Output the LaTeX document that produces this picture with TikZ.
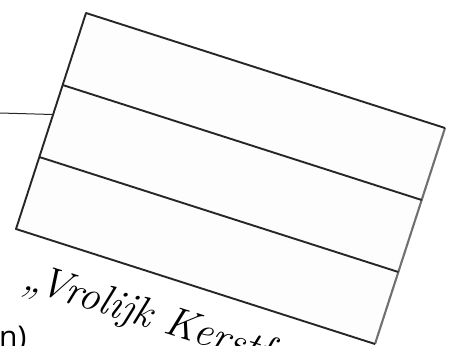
\documentclass[tikz,border=0pt]{standalone}
\usepackage{fontspec}
\newfontfamily\sansfont{Open Sans}
\usetikzlibrary{calc}
\definecolor{boxfill}{HTML}{FDFDFD}
\definecolor{edgegray}{HTML}{707070}
\tikzset{
  boxline/.style={draw=black!85, line width=1.9pt, line join=round},
  lightedge/.style={draw=edgegray, line width=2.1pt},
  leader/.style={draw=black!85, line width=1pt},
  greeting/.style={font=\fontsize{42}{46}\selectfont\itshape, inner sep=0pt, anchor=base west, rotate=-17.5},
  sidetext/.style={font=\sansfont\fontsize{30}{34}\selectfont, inner sep=0pt, anchor=base west}
}
\begin{document}
\begin{tikzpicture}[x=1pt,y=-1pt]
\useasboundingbox (0,0) rectangle (454,345);
\clip (0,0) rectangle (454,345);
\coordinate (TL) at (86,13);
\coordinate (TR) at (445,128);
\coordinate (BR) at (375,344);
\coordinate (BL) at (16,229);
\fill[boxfill] (TL) -- (TR) -- (BR) -- (BL) -- cycle;
\draw[lightedge] (TR) -- (BR);
\draw[boxline] (BR) -- (BL) -- (TL) -- (TR);
\draw[boxline] ($(TL)!1/3!(BL)$) coordinate (L1) -- ($(TR)!1/3!(BR)$) coordinate (R1);
\draw[boxline] ($(TL)!2/3!(BL)$) coordinate (L2) -- ($(TR)!2/3!(BR)$) coordinate (R2);
\coordinate (lead) at (0,113);
\coordinate (hit) at ($(TL)!0.47!(BL)$);
\draw[leader] (lead) -- (hit);
\coordinate (gpos) at (21,288);
\node[greeting] (greet) at (gpos) {„Vrolijk Kerstfeest};
\node[sidetext] (side) at (-1,347) {n)};
\end{tikzpicture}
\end{document}
